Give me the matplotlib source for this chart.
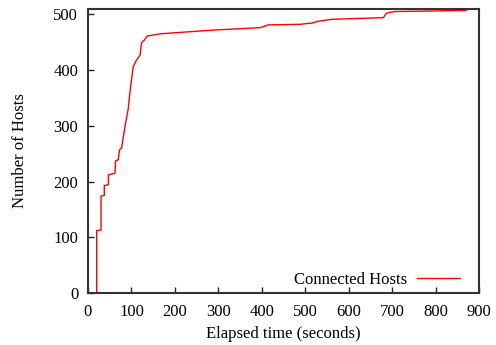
import matplotlib
matplotlib.use("Agg")
import matplotlib.pyplot as plt

# Elapsed time (s) and number of connected hosts
time_s = [20, 20, 30, 30, 37.5, 37.5, 47, 47, 62, 63.5, 69.5, 72.7, 77.3,
          85, 92.7, 97, 104, 109.5, 120, 123, 127, 129, 136.5, 166, 258,
          296, 396, 415, 488, 511, 515, 526, 561, 680, 687, 707, 800, 870]
hosts = [0, 112, 113, 174, 175, 193, 194, 212, 215, 237, 239, 257, 260,
         298, 331, 364, 405, 415, 427, 448, 452, 453, 461, 465, 470,
         472, 476, 481, 482, 484, 484, 487, 491, 494, 502, 505, 506, 507]

series_label = "Connected Hosts"
x_ticks = [0, 100, 200, 300, 400, 500, 600, 700, 800, 900]
y_ticks = [0, 100, 200, 300, 400, 500]

plt.rcParams['font.family'] = ['Liberation Serif', 'DejaVu Serif']
fig = plt.figure(figsize=(4.96, 3.45), dpi=100)
ax = fig.add_axes([88/496, 1 - 293/345, (479-88)/496, (293-9)/345])

ax.plot(time_s, hosts, color='#ff0000', lw=1.0, label=series_label)
ax.set_xlim(0, 900)
ax.set_ylim(0, 509.5)
ax.set_xticks(x_ticks)
ax.set_yticks(y_ticks)
ax.tick_params(direction='in', length=4, width=1, labelsize=12,
               colors='#222222', labelcolor='black')
ax.tick_params(axis='x', pad=8)
ax.tick_params(axis='y', pad=7)
for s in ax.spines.values():
    s.set_linewidth(1.5)
    s.set_color('#333333')
ax.set_xlabel("Elapsed time (seconds)", fontsize=12, labelpad=4)
ax.set_ylabel("Number of Hosts", fontsize=12, labelpad=18)

leg = ax.legend(loc='lower right', frameon=False, fontsize=12,
                markerfirst=False, handlelength=2.6, borderaxespad=0,
                borderpad=0, handletextpad=0.6,
                bbox_to_anchor=(1 - 19/391, 5/284))

fig.savefig("out.png", dpi=100)
